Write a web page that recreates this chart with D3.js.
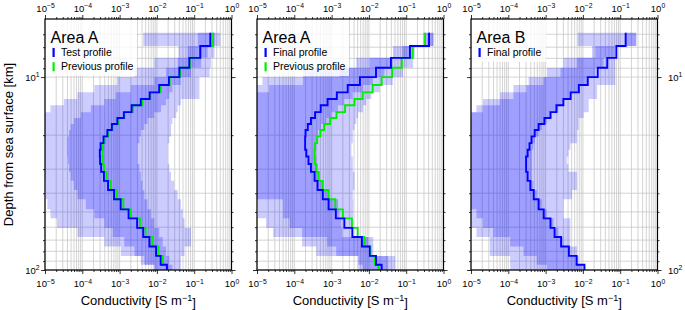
<!DOCTYPE html>
<html>
<head>
<meta charset="utf-8">
<script src="https://cdn.jsdelivr.net/npm/d3@7"></script>
<style>
  body { margin: 0; background: #fff; }
  text { font-family: "Liberation Sans", Arial, sans-serif; fill: #000; }
</style>
</head>
<body>
<script>
// layer boundaries of the models [km]
const depthEdges = [5.9, 6.9, 7.95, 8.95, 10, 11, 12, 13, 14, 15.2, 16.3, 17.5, 18.8, 20.3, 22, 23.8,
  25.8, 28.2, 31, 34.5, 38.5, 43, 48.5, 54, 60.5, 67.5, 75.5, 84.5, 94, 100];

// conductivity per layer [S/m]
const testProfile = [2.7e-1, 1.45e-1, 7.4e-2, 4.0e-2, 2.1e-2, 1.15e-2, 6.4e-3, 3.7e-3, 2.1e-3, 1.3e-3,
  8.7e-4, 6.2e-4, 4.7e-4, 3.7e-4, 3.1e-4, 2.95e-4, 3.0e-4, 3.2e-4, 3.8e-4, 4.9e-4,
  7.1e-4, 1.07e-3, 1.74e-3, 2.95e-3, 4.3e-3, 6.3e-3, 9.5e-3, 1.26e-2, 1.86e-2];
const previousProfile = [3.2e-1, 1.5e-1, 7.6e-2, 4.2e-2, 2.2e-2, 1.26e-2, 6.8e-3, 4.1e-3, 2.3e-3, 1.35e-3,
  9.1e-4, 6.3e-4, 5.0e-4, 4.1e-4, 3.6e-4, 3.5e-4, 3.55e-4, 3.8e-4, 4.5e-4, 5.8e-4,
  8.3e-4, 1.26e-3, 2.0e-3, 3.5e-3, 5.0e-3, 7.4e-3, 1.1e-2, 1.45e-2, 1.8e-2];
const finalProfileA = [4.1e-1, 1.26e-1, 3.9e-2, 1.55e-2, 5.75e-3, 2.7e-3, 1.38e-3, 7.8e-4, 5.1e-4, 3.6e-4,
  2.8e-4, 2.3e-4, 2.0e-4, 1.95e-4, 1.95e-4, 2.1e-4, 2.4e-4, 2.8e-4, 3.5e-4, 4.2e-4,
  5.8e-4, 8.3e-4, 1.3e-3, 2.2e-3, 3.6e-3, 6.5e-3, 1.05e-2, 1.55e-2, 2.2e-2];
const finalProfileB = [1.4e-1, 7.9e-2, 4.5e-2, 2.5e-2, 1.35e-2, 7.8e-3, 4.7e-3, 3.0e-3, 1.95e-3, 1.35e-3,
  9.3e-4, 6.5e-4, 5.1e-4, 4.2e-4, 3.7e-4, 3.3e-4, 3.0e-4, 3.0e-4, 3.3e-4, 3.9e-4,
  4.8e-4, 6.5e-4, 8.9e-4, 1.35e-3, 1.74e-3, 2.6e-3, 4.2e-3, 6.8e-3, 1.1e-2];

// spread of the model ensembles (wide and narrow range), per layer
const testWideLo = [4.3e-3, 3.8e-2, 8.5e-3, 2.5e-3, 8.8e-4, 2.1e-4, 7.4e-5, 3.2e-5, 1.4e-5, 5e-6,
  5e-6, 5e-6, 5e-6, 5e-6, 5e-6, 5e-6, 5e-6, 5e-6, 5e-6, 1.04e-5,
  1.04e-5, 1.16e-5, 1.4e-5, 2.1e-5, 7.4e-5, 3.9e-4, 1.08e-3, 3.7e-3, 8.5e-3];
const testWideHi = [5.0e-1, 3.5e-1, 2.8e-1, 2.6e-1, 1.38e-1, 1.38e-1, 1.38e-1, 4.4e-2, 3.6e-2, 3.3e-2,
  2.6e-2, 2.4e-2, 2.4e-2, 2.15e-2, 1.95e-2, 1.95e-2, 1.95e-2, 2.15e-2, 2.4e-2, 2.9e-2,
  3.6e-2, 4.4e-2, 4.9e-2, 5.5e-2, 8.2e-2, 8.2e-2, 5.5e-2, 4.4e-2, 4.4e-2];
const testNarrowLo = [1.25e-1, 6.7e-2, 3.6e-2, 1.75e-2, 8.5e-3, 2.0e-3, 7.9e-4, 3.9e-4, 1.7e-4, 9.1e-5,
  6.0e-5, 4.9e-5, 4.4e-5, 4.0e-5, 4.0e-5, 4.0e-5, 4.15e-5, 4.4e-5, 4.9e-5, 6.0e-5,
  7.4e-5, 1.24e-4, 2.1e-4, 3.9e-4, 6.5e-4, 1.33e-3, 2.5e-3, 4.6e-3, 8.5e-3];
const testNarrowHi = [3.6e-1, 2.3e-1, 1.53e-1, 8.2e-2, 4.4e-2, 2.6e-2, 2.15e-2, 1.75e-2, 1.29e-2, 8.5e-3,
  5.6e-3, 4.6e-3, 3.7e-3, 3.4e-3, 3.0e-3, 3.0e-3, 3.0e-3, 3.4e-3, 3.7e-3, 4.1e-3,
  4.6e-3, 5.6e-3, 6.9e-3, 8.5e-3, 1.16e-2, 1.43e-2, 1.75e-2, 2.15e-2, 2.6e-2];

const finalAWideLo = [2.8e-1, 4.4e-2, 4.6e-3, 1.7e-4, 1.4e-5, 5e-6, 5e-6, 5e-6, 5e-6, 5e-6,
  5e-6, 5e-6, 5e-6, 5e-6, 5e-6, 5e-6, 5e-6, 5e-6, 5e-6, 5e-6,
  5e-6, 1.06e-5, 1.06e-5, 1.75e-5, 2.7e-5, 1.62e-4, 3.9e-4, 5.2e-3, 5.2e-3];
const finalAWideHi = [5.5e-1, 1.7e-1, 1.53e-1, 8.2e-2, 4.4e-2, 1.95e-2, 1.16e-2, 8.5e-3, 6.9e-3, 5.1e-3,
  4.6e-3, 4.1e-3, 3.7e-3, 3.7e-3, 3.4e-3, 3.4e-3, 3.7e-3, 3.7e-3, 4.1e-3, 4.1e-3,
  3.7e-3, 3.8e-3, 3.8e-3, 3.8e-3, 3.8e-3, 1.31e-2, 1.31e-2, 5.1e-2, 5.1e-2];
const finalANarrowLo = [3.5e-1, 7.9e-2, 1.05e-2, 1.63e-3, 1.7e-4, 2.1e-5, 5e-6, 5e-6, 5e-6, 5e-6,
  5e-6, 5e-6, 5e-6, 5e-6, 5e-6, 5e-6, 5e-6, 5e-6, 5e-6, 5e-6,
  5e-6, 5.0e-5, 5.0e-5, 7.4e-5, 1.62e-4, 7.6e-4, 1.33e-3, 5.2e-3, 6.9e-3];
const finalANarrowHi = [5.3e-1, 1.38e-1, 4.4e-2, 2.6e-2, 1.29e-2, 6.9e-3, 3.7e-3, 2.2e-3, 1.47e-3, 9.8e-4,
  7.2e-4, 5.2e-4, 4.3e-4, 3.9e-4, 3.7e-4, 3.7e-4, 3.9e-4, 4.3e-4, 4.7e-4, 5.8e-4,
  7.9e-4, 1.5e-3, 1.63e-3, 1.81e-3, 1.93e-3, 9.6e-3, 9.6e-3, 3.3e-2, 3.3e-2];

const finalBWideLo = [7.2e-3, 1.75e-2, 3.0e-3, 1.08e-3, 3.5e-4, 1.37e-4, 6.0e-5, 2.1e-5, 1.4e-5, 5e-6,
  5e-6, 5e-6, 5e-6, 5e-6, 5e-6, 5e-6, 5e-6, 5e-6, 5e-6, 5e-6,
  5e-6, 5e-6, 5e-6, 5e-6, 1.4e-5, 3.2e-5, 3.2e-5, 1.12e-4, 1.12e-4];
const finalBWideHi = [2.7e-1, 8.2e-2, 7.4e-2, 7.4e-2, 7.4e-2, 2.4e-2, 2.4e-2, 1.43e-2, 1.43e-2, 1.05e-2,
  7.7e-3, 7.7e-3, 6.9e-3, 6.9e-3, 4.6e-3, 4.1e-3, 3.7e-3, 4.1e-3, 6.9e-3, 6.9e-3,
  5.1e-3, 3.0e-3, 3.0e-3, 4.6e-3, 4.6e-3, 4.6e-3, 6.9e-3, 7.7e-3, 1.16e-2];
const finalBNarrowLo = [1.38e-1, 2.15e-2, 6.9e-3, 2.5e-3, 8.8e-4, 3.1e-4, 1.37e-4, 6.0e-5, 2.1e-5, 1.04e-5,
  5e-6, 5e-6, 5e-6, 5e-6, 5e-6, 5e-6, 5e-6, 5e-6, 5e-6, 5e-6,
  5e-6, 5e-6, 1.4e-5, 2.1e-5, 4.0e-5, 1.12e-4, 2.55e-4, 5.8e-4, 1.08e-3];
const finalBNarrowHi = [2.7e-1, 7.0e-2, 3.6e-2, 2.15e-2, 1.29e-2, 7.7e-3, 4.6e-3, 3.0e-3, 2.2e-3, 1.47e-3,
  1.08e-3, 7.9e-4, 6.5e-4, 5.2e-4, 4.7e-4, 4.3e-4, 4.3e-4, 4.3e-4, 4.3e-4, 4.7e-4,
  5.8e-4, 7.9e-4, 1.08e-3, 1.63e-3, 2.2e-3, 3.0e-3, 4.6e-3, 6.9e-3, 9.4e-3];

const xMajorTicks = [1e-5, 1e-4, 1e-3, 1e-2, 1e-1, 1e0];
const yMajorTicks = [10, 100];

const panels = [
  { left: 45, title: "Area A", yLabels: "left",
    profiles: [{ name: "Test profile", color: "#0000ff", values: testProfile },
               { name: "Previous profile", color: "#00ee00", values: previousProfile }],
    wide: [testWideLo, testWideHi], narrow: [testNarrowLo, testNarrowHi] },
  { left: 257, title: "Area A", yLabels: null,
    profiles: [{ name: "Final profile", color: "#0000ff", values: finalProfileA },
               { name: "Previous profile", color: "#00ee00", values: previousProfile }],
    wide: [finalAWideLo, finalAWideHi], narrow: [finalANarrowLo, finalANarrowHi] },
  { left: 471, title: "Area B", yLabels: "right",
    profiles: [{ name: "Final profile", color: "#0000ff", values: finalProfileB }],
    wide: [finalBWideLo, finalBWideHi], narrow: [finalBNarrowLo, finalBNarrowHi] }
];

const width = 685, height = 310;
const plotW = 186.5, plotTop = 19, plotBottom = 270;

const svg = d3.select("body").append("svg")
  .attr("width", width)
  .attr("height", height);

const y = d3.scaleLog().domain([5, 100]).range([plotTop, plotBottom]);
const allXTicks = d3.scaleLog().domain([1e-5, 1]).ticks();
const allYTicks = y.ticks().filter(d => d > 5);
const minorX = allXTicks.filter(d => !xMajorTicks.includes(d));
const minorY = allYTicks.filter(d => !yMajorTicks.includes(d));

const supFormat = d => {
  const e = Math.round(Math.log10(d));
  return e < 0 ? "\u2212" + (-e) : String(e);
};
// tidy an axis group; write 10^n labels when it carries labels
function styleAxis(g, labeled) {
  g.select(".domain").remove();
  g.selectAll(".tick line").attr("stroke", "#000").attr("stroke-width", 0.8);
  if (!labeled) {
    g.selectAll(".tick text").remove();
    return;
  }
  g.selectAll(".tick text").each(function(d) {
    const t = d3.select(this);
    t.text(null).style("font-size", "9.5px");
    t.append("tspan").text("10");
    t.append("tspan").attr("dy", "-0.5em").style("font-size", "6.8px").text(supFormat(d));
  });
}

function stepPoints(values) {
  const pts = [];
  values.forEach((v, i) => {
    pts.push([v, depthEdges[i]]);
    pts.push([v, depthEdges[i + 1]]);
  });
  return pts;
}
function bandPoints(lo, hi) {
  const pts = [];
  lo.forEach((v, i) => {
    pts.push({ d: depthEdges[i], lo: v, hi: hi[i] });
    pts.push({ d: depthEdges[i + 1], lo: v, hi: hi[i] });
  });
  return pts;
}

panels.forEach((p, pi) => {
  const x = d3.scaleLog().domain([1e-5, 1]).range([p.left, p.left + plotW]);
  const g = svg.append("g");

  // grid
  g.append("g").selectAll("line").data(allXTicks).enter().append("line")
    .attr("x1", d => x(d)).attr("x2", d => x(d))
    .attr("y1", plotTop).attr("y2", plotBottom)
    .attr("stroke", "#c8c8c8").attr("stroke-width", 0.8);
  g.append("g").selectAll("line").data(allYTicks).enter().append("line")
    .attr("x1", p.left).attr("x2", p.left + plotW)
    .attr("y1", d => y(d)).attr("y2", d => y(d))
    .attr("stroke", "#c8c8c8").attr("stroke-width", 0.8);

  const clipId = "clip" + pi;
  svg.append("clipPath").attr("id", clipId).append("rect")
    .attr("x", p.left).attr("y", plotTop).attr("width", plotW).attr("height", plotBottom - plotTop);

  const data = g.append("g").attr("clip-path", `url(#${clipId})`);
  const area = d3.area().y(d => y(d.d)).x0(d => x(d.lo)).x1(d => x(d.hi));
  data.append("path").attr("d", area(bandPoints(p.wide[0], p.wide[1])))
    .attr("fill", "#0000ff").attr("fill-opacity", 0.2);
  data.append("path").attr("d", area(bandPoints(p.narrow[0], p.narrow[1])))
    .attr("fill", "#0000ff").attr("fill-opacity", 0.22);

  const line = d3.line().x(d => x(d[0])).y(d => y(d[1]));
  p.profiles.slice().reverse().forEach(pr => {
    data.append("path").attr("d", line(stepPoints(pr.values)))
      .attr("fill", "none").attr("stroke", pr.color).attr("stroke-width", 1.9)
      .attr("stroke-linejoin", "miter");
  });

  // legend
  const lg = g.append("g");
  lg.append("rect")
    .attr("x", p.left + 1).attr("y", plotTop + 1)
    .attr("width", p.profiles.length > 1 ? 91 : 74)
    .attr("height", p.profiles.length > 1 ? 56 : 42)
    .attr("fill", "#fff").attr("fill-opacity", 0.8);
  lg.append("text").attr("x", p.left + 5.5).attr("y", 43)
    .style("font-size", "16px").text(p.title);
  p.profiles.forEach((pr, i) => {
    const yy = 56 + i * 14.3;
    lg.append("rect").attr("x", p.left + 7.5).attr("y", yy - 8).attr("width", 2.2).attr("height", 9)
      .attr("fill", pr.color);
    lg.append("text").attr("x", p.left + 16).attr("y", yy)
      .style("font-size", "10.5px").text(pr.name);
  });

  // frame
  g.append("rect").attr("x", p.left).attr("y", plotTop).attr("width", plotW).attr("height", plotBottom - plotTop)
    .attr("fill", "none").attr("stroke", "#000").attr("stroke-width", 1.2);

  // x axes, top and bottom
  g.append("g").attr("transform", `translate(0,${plotBottom})`)
    .call(d3.axisBottom(x).tickValues(minorX).tickSize(2))
    .call(a => styleAxis(a, false));
  g.append("g").attr("transform", `translate(0,${plotBottom})`)
    .call(d3.axisBottom(x).tickValues(xMajorTicks).tickSize(4).tickPadding(6.5))
    .call(a => styleAxis(a, true));
  g.append("g").attr("transform", `translate(0,${plotTop})`)
    .call(d3.axisTop(x).tickValues(minorX).tickSize(2))
    .call(a => styleAxis(a, false));
  g.append("g").attr("transform", `translate(0,${plotTop})`)
    .call(d3.axisTop(x).tickValues(xMajorTicks).tickSize(4).tickPadding(3.5))
    .call(a => styleAxis(a, true));

  // y axes, left and right
  g.append("g").attr("transform", `translate(${p.left},0)`)
    .call(d3.axisLeft(y).tickValues(minorY).tickSize(2))
    .call(a => styleAxis(a, false));
  g.append("g").attr("transform", `translate(${p.left},0)`)
    .call(d3.axisLeft(y).tickValues(yMajorTicks).tickSize(4).tickPadding(1.5))
    .call(a => styleAxis(a, p.yLabels === "left"));
  g.append("g").attr("transform", `translate(${p.left + plotW},0)`)
    .call(d3.axisRight(y).tickValues(minorY).tickSize(2))
    .call(a => styleAxis(a, false));
  g.append("g").attr("transform", `translate(${p.left + plotW},0)`)
    .call(d3.axisRight(y).tickValues(yMajorTicks).tickSize(4).tickPadding(6.5))
    .call(a => styleAxis(a, p.yLabels === "right"));

  // x label
  const xl = g.append("text").attr("x", p.left + plotW / 2).attr("y", 305)
    .attr("text-anchor", "middle").style("font-size", "13px");
  xl.append("tspan").text("Conductivity [S m");
  xl.append("tspan").attr("dy", "-0.45em").style("font-size", "9px").text("\u22121");
  xl.append("tspan").attr("dy", "0.45em").text("]");
});

svg.append("text")
  .attr("transform", `translate(13,${(plotTop + plotBottom) / 2}) rotate(-90)`)
  .attr("text-anchor", "middle")
  .style("font-size", "13px")
  .text("Depth from sea surface [km]");
</script>
</body>
</html>
